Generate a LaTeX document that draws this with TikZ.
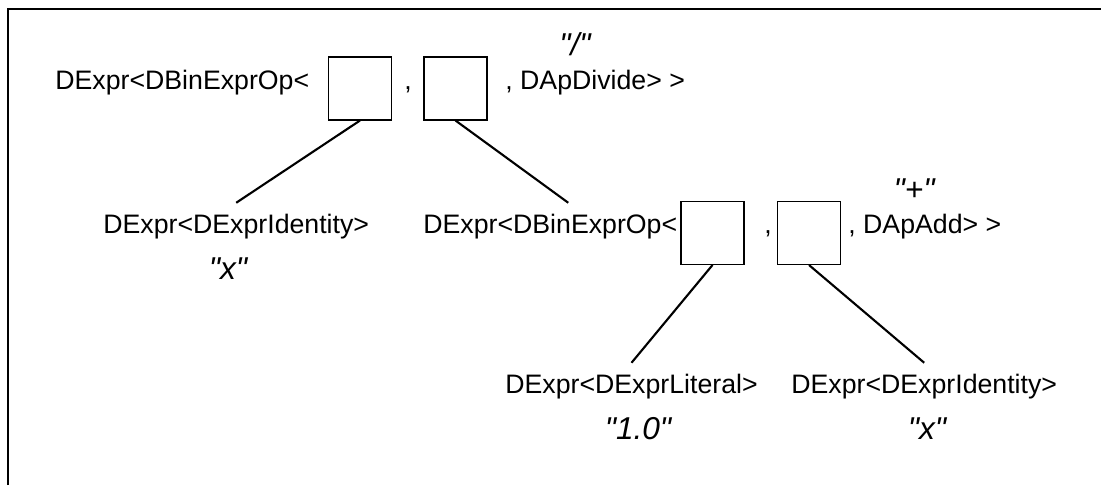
\documentclass[tikz,border=0pt]{standalone}
\usepackage{fontspec}
\setmainfont{Liberation Sans}
\usetikzlibrary{positioning, calc}
\tikzstyle{type} = [inner xsep=0pt, inner ysep=6pt, anchor=base west, font=\fontsize{15.2}{18}\selectfont]
\tikzstyle{sep} = [inner sep=0pt, anchor=base, font=\fontsize{15.2}{18}\selectfont]
\tikzstyle{slot} = [rectangle, draw=black, line width=0.6pt, minimum size=1.26cm, inner sep=0pt]
\tikzstyle{val} = [inner sep=0pt, font=\fontsize{18}{21}\selectfont\itshape]
\tikzstyle{edge} = [line width=1.2pt]
\newcommand{\qt}[1]{\textquotedbl#1\textquotedbl}
\begin{document}
\begin{tikzpicture}[x=0.02cm, y=-0.02cm]
\useasboundingbox (0,0) rectangle (1101,485);

% Frame
\draw [line width=1.6pt] (8,485) |- (1101,9);

% Root: division
\node (root) [type] at (55,89) {DExpr<DBinExprOp<};
\node (b1) [slot] at (360,88.5) {};
\node (c1) [sep] at (408,89) {,};
\node (b2) [slot] at (455.5,88.5) {};
\node (divop) [type] at (505,89) {, DApDivide> >};
\node (divval) [val] at (575,44) {\qt{/}};

% Second level
\node (id1) [type] at (103,233) {DExpr<DExprIdentity>};
\node (x1) [val] at (228,269) {\qt{x}};
\node (mid) [type] at (423,233) {DExpr<DBinExprOp<};
\node (b3) [slot] at (712.5,233) {};
\node (c2) [sep] at (768,233) {,};
\node (b4) [slot] at (809,233) {};
\node (addop) [type] at (848,233) {, DApAdd> >};
\node (addval) [val] at (914,190) {\qt{+}};

% Leaves
\node (lit) [type] at (505,393) {DExpr<DExprLiteral>};
\node (litval) [val] at (638,429) {\qt{1.0}};
\node (id2) [type] at (791,393) {DExpr<DExprIdentity>};
\node (x2) [val] at (927,429) {\qt{x}};

% Edges
\draw [edge] (b1.south) -- (id1.north);
\draw [edge] (b2.south) -- ($(mid.north)+(18,0)$);
\draw [edge] (b3.south) -- (lit.north);
\draw [edge] (b4.south) -- (id2.north);

\end{tikzpicture}
\end{document}
